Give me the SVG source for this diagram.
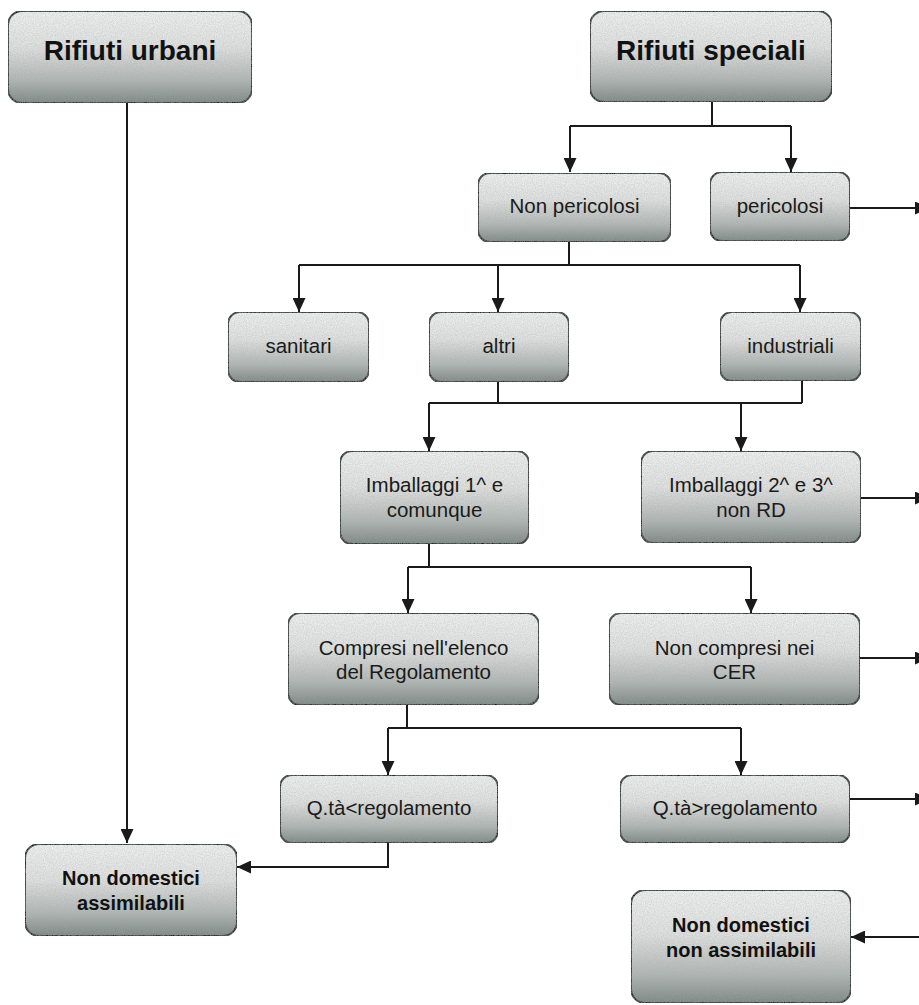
<svg xmlns="http://www.w3.org/2000/svg" width="919" height="1005" viewBox="0 0 919 1005">
<style>
.box{fill:url(#g);stroke:#1e1e1e;stroke-width:2;filter:url(#grain)}
.t{font-family:"Liberation Sans",Arial,sans-serif;font-size:20.5px;fill:#1a1a1a;text-anchor:middle}
.tb{font-family:"Liberation Sans",Arial,sans-serif;font-weight:bold;font-size:20px;fill:#111;text-anchor:middle}
.th{font-family:"Liberation Sans",Arial,sans-serif;font-weight:bold;font-size:28px;fill:#111;text-anchor:middle}
.c{fill:none;stroke:#1a1a1a;stroke-width:2}
</style>
<defs>
<linearGradient id="g" x1="0" y1="0" x2="0" y2="1">
<stop offset="0" stop-color="#f4f4f4"/>
<stop offset="0.4" stop-color="#e3e3e3"/>
<stop offset="0.75" stop-color="#b2b7b5"/>
<stop offset="1" stop-color="#7a827f"/>
</linearGradient>
<filter id="grain" x="0" y="0" width="1" height="1">
<feTurbulence type="fractalNoise" baseFrequency="0.9" numOctaves="2" seed="4" result="n"/>
<feColorMatrix in="n" type="matrix" values="0 0 0 0 0.35 0 0 0 0 0.4 0 0 0 0 0.38 0 0 0 0.7 -0.15" result="gn"/>
<feComposite in="gn" in2="SourceGraphic" operator="in" result="gm"/>
<feMerge><feMergeNode in="SourceGraphic"/><feMergeNode in="gm"/></feMerge>
</filter>
<marker id="a" viewBox="0 0 14 13" refX="14" refY="6.5" markerWidth="14" markerHeight="13" markerUnits="userSpaceOnUse" orient="auto">
<path d="M0 0 L14 6.5 L0 13 Z" fill="#1a1a1a"/>
</marker>
</defs>

<g id="connectors">
<path class="c" d="M127 103 V843" marker-end="url(#a)"/>
<path class="c" d="M712 102 V126 M570 126 H791"/>
<path class="c" d="M570 126 V172" marker-end="url(#a)"/>
<path class="c" d="M791 126 V172" marker-end="url(#a)"/>
<path class="c" d="M850 208 H929" marker-end="url(#a)"/>
<path class="c" d="M569 242 V265 M299 265 H800"/>
<path class="c" d="M299 265 V312" marker-end="url(#a)"/>
<path class="c" d="M498 265 V312" marker-end="url(#a)"/>
<path class="c" d="M800 265 V312" marker-end="url(#a)"/>
<path class="c" d="M498 382 V403 M802 381 V403 M429 403 H802"/>
<path class="c" d="M429 403 V451" marker-end="url(#a)"/>
<path class="c" d="M741 403 V451" marker-end="url(#a)"/>
<path class="c" d="M861 498 H929" marker-end="url(#a)"/>
<path class="c" d="M429 544 V567 M408 567 H751"/>
<path class="c" d="M408 567 V613" marker-end="url(#a)"/>
<path class="c" d="M751 567 V613" marker-end="url(#a)"/>
<path class="c" d="M860 658 H929" marker-end="url(#a)"/>
<path class="c" d="M407 705 V728 M388 728 H741"/>
<path class="c" d="M388 728 V775" marker-end="url(#a)"/>
<path class="c" d="M741 728 V775" marker-end="url(#a)"/>
<path class="c" d="M850 799 H929" marker-end="url(#a)"/>
<path class="c" d="M388 843 V867 H237" marker-end="url(#a)"/>
<path class="c" d="M925 937 H851" marker-end="url(#a)"/>
</g>

<g id="rifiuti-urbani"><rect class="box" x="8" y="11" width="244" height="92" rx="14"/><text class="th" x="130" y="60">Rifiuti urbani</text></g>
<g id="rifiuti-speciali"><rect class="box" x="590" y="11" width="242" height="91" rx="14"/><text class="th" x="711" y="60">Rifiuti speciali</text></g>
<g id="non-pericolosi"><rect class="box" x="478" y="173" width="193" height="69" rx="12"/><text class="t" x="574.5" y="213">Non pericolosi</text></g>
<g id="pericolosi"><rect class="box" x="710" y="172" width="140" height="69" rx="12"/><text class="t" x="780" y="213">pericolosi</text></g>
<g id="sanitari"><rect class="box" x="228" y="312" width="141" height="70" rx="12"/><text class="t" x="298.5" y="353">sanitari</text></g>
<g id="altri"><rect class="box" x="429" y="312" width="140" height="70" rx="12"/><text class="t" x="499" y="353">altri</text></g>
<g id="industriali"><rect class="box" x="720" y="312" width="141" height="69" rx="12"/><text class="t" x="790.5" y="353">industriali</text></g>
<g id="imballaggi-1"><rect class="box" x="340" y="451" width="189" height="93" rx="12"/><text class="t" x="434.5" y="492">Imballaggi 1^ e</text><text class="t" x="434.5" y="517">comunque</text></g>
<g id="imballaggi-2"><rect class="box" x="641" y="451" width="220" height="92" rx="12"/><text class="t" x="751" y="492">Imballaggi 2^ e 3^</text><text class="t" x="751" y="517">non RD</text></g>
<g id="compresi"><rect class="box" x="288" y="613" width="251" height="92" rx="12"/><text class="t" x="413.5" y="655">Compresi nell'elenco</text><text class="t" x="413.5" y="679">del Regolamento</text></g>
<g id="non-compresi"><rect class="box" x="609" y="613" width="251" height="92" rx="12"/><text class="t" x="734.5" y="655">Non compresi nei</text><text class="t" x="734.5" y="679">CER</text></g>
<g id="qta-minore"><rect class="box" x="280" y="775" width="218" height="68" rx="12"/><text class="t" x="389" y="815">Q.tà&lt;regolamento</text></g>
<g id="qta-maggiore"><rect class="box" x="620" y="775" width="230" height="68" rx="12"/><text class="t" x="735" y="815">Q.tà&gt;regolamento</text></g>
<g id="non-domestici-assimilabili"><rect class="box" x="25" y="844" width="212" height="92" rx="14"/><text class="tb" x="131" y="885">Non domestici</text><text class="tb" x="131" y="910">assimilabili</text></g>
<g id="non-domestici-non-assimilabili"><rect class="box" x="631" y="890" width="220" height="113" rx="14"/><text class="tb" x="741" y="932">Non domestici</text><text class="tb" x="741" y="957">non assimilabili</text></g>
</svg>
